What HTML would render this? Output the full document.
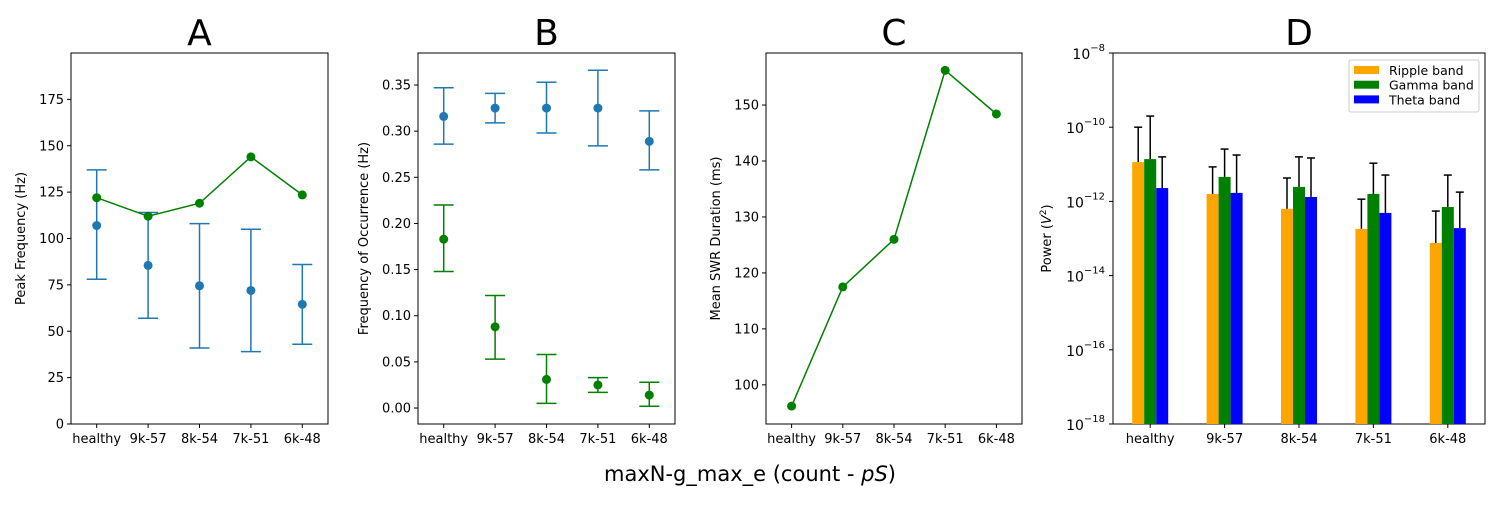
<!DOCTYPE html>
<html><head><meta charset="utf-8"><style>
body{margin:0;background:#fff}
svg text{font-family:"DejaVu Sans","Liberation Sans",sans-serif;fill:#000}
</style></head><body>
<svg id="c" width="1500" height="500" xmlns="http://www.w3.org/2000/svg"></svg>
<script>
const categories=["healthy","9k-57","8k-54","7k-51","6k-48"];
const aGreen=[122,112,119,144,123.5];
const aBlue=[107,85.5,74.5,72,64.5];
const aBlueLo=[78,57,41,39,43];
const aBlueHi=[137,114,108,105,86];
const bBlue=[0.316,0.325,0.325,0.325,0.289];
const bBlueLo=[0.286,0.309,0.298,0.284,0.258];
const bBlueHi=[0.347,0.341,0.353,0.366,0.322];
const bGreen=[0.183,0.088,0.031,0.025,0.014];
const bGreenLo=[0.148,0.053,0.005,0.017,0.002];
const bGreenHi=[0.220,0.122,0.058,0.033,0.028];
const cVals=[96.2,117.5,126,156.2,148.4];
const dRipple=[-10.94,-11.8,-12.2,-12.74,-13.12];
const dRippleErr=[-10.0,-11.07,-11.37,-11.94,-12.26];
const dGamma=[-10.86,-11.34,-11.61,-11.8,-12.15];
const dGammaErr=[-9.70,-10.59,-10.8,-10.97,-11.29];
const dTheta=[-11.64,-11.77,-11.88,-12.31,-12.72];
const dThetaErr=[-10.8,-10.75,-10.83,-11.29,-11.75];
const aTicks=[0,25,50,75,100,125,150,175];
const bTicks=[0,0.05,0.1,0.15,0.2,0.25,0.3,0.35];
const cTicks=[100,110,120,130,140,150];
const dTicks=[-18,-16,-14,-12,-10,-8];

const svg=document.getElementById('c');
const NS="http://www.w3.org/2000/svg";
function el(t,a,p){const e=document.createElementNS(NS,t);for(const k in a)e.setAttribute(k,a[k]);(p||svg).appendChild(e);return e;}
function txt(s,a,p){const e=el('text',a,p);e.textContent=s;return e;}

function panel(name,L,R,T,B,y0,y1,ticks,fmt,ylabel,title,ylx){
  const g=el('g',{});
  
  
  const xs=i=>L+(i+0.5)*(R-L)/5;
  const ys=v=>B-(v-y0)/(y1-y0)*(B-T);
  const fr=el('rect',{x:L,y:T,width:R-L,height:B-T,fill:'none',stroke:'#000','stroke-width':1},g);
  
  
  categories.forEach((c,i)=>{
    el('line',{x1:xs(i),x2:xs(i),y1:B,y2:B+4,stroke:'#000'},g);
    const t=txt(c,{x:xs(i),y:B+19,'font-size':13,'text-anchor':'middle'},g);
    
    
  });
  ticks.forEach(v=>{
    el('line',{x1:L-4,x2:L,y1:ys(v),y2:ys(v),stroke:'#000'},g);
    if(fmt){const t=txt(fmt(v),{x:L-7,y:ys(v)+4.5,'font-size':13,'text-anchor':'end'},g);
    
    }
  });
  const yl=txt(ylabel,{x:0,y:0,'font-size':13,'text-anchor':'middle',transform:`translate(${ylx},${(T+B)/2}) rotate(-90)`},g);
  
  
  const tt=txt(title,{x:(L+R)/2,y:45,'font-size':36,'text-anchor':'middle'},g);
  
  
  return {g,xs,ys};
}
function errbar(g,x,lo,hi,col,cap){
  el('line',{x1:x,x2:x,y1:lo,y2:hi,stroke:col,'stroke-width':1.5},g);
  el('line',{x1:x-cap,x2:x+cap,y1:hi,y2:hi,stroke:col,'stroke-width':1.5},g);
  if(lo!==null) el('line',{x1:x-cap,x2:x+cap,y1:lo,y2:lo,stroke:col,'stroke-width':1.5},g);
}
function line(g,xs,ys,vals,col,name){
  const p=el('polyline',{points:vals.map((v,i)=>xs(i)+','+ys(v)).join(' '),fill:'none',stroke:col,'stroke-width':1.5},g);
  
  
}
function dots(g,xs,ys,vals,col,name){
  vals.forEach((v,i)=>{const c=el('circle',{cx:xs(i),cy:ys(v),r:4.5,fill:col},g);
  
  });
}
const BLUE='#1f77b4';
// A
let P=panel('a',71,328,53,424,0,200,aTicks,v=>String(v),'Peak Frequency (Hz)','A',25);
categories.forEach((c,i)=>errbar(P.g,P.xs(i),P.ys(aBlueLo[i]),P.ys(aBlueHi[i]),BLUE,10));
dots(P.g,P.xs,P.ys,aBlue,BLUE,'point-blue');
line(P.g,P.xs,P.ys,aGreen,'green','line-green');
dots(P.g,P.xs,P.ys,aGreen,'green','point-green');
// B
P=panel('b',418,675,53,424,-0.0173,0.3847,bTicks,v=>v.toFixed(2),'Frequency of Occurrence (Hz)','B',368);
categories.forEach((c,i)=>{errbar(P.g,P.xs(i),P.ys(bBlueLo[i]),P.ys(bBlueHi[i]),BLUE,10);
errbar(P.g,P.xs(i),P.ys(bGreenLo[i]),P.ys(bGreenHi[i]),'green',10);});
dots(P.g,P.xs,P.ys,bBlue,BLUE,'point-blue');
dots(P.g,P.xs,P.ys,bGreen,'green','point-green');
// C
P=panel('c',766,1022,53,424,93.0,159.3,cTicks,v=>String(v),'Mean SWR Duration (ms)','C',720);
line(P.g,P.xs,P.ys,cVals,'green','line-green');
dots(P.g,P.xs,P.ys,cVals,'green','point-green');
// D
P=panel('d',1113,1485,53,424,-18,-8,[],null,'','D',1052);
const dyl=el('text',{x:0,y:0,'font-size':13,'text-anchor':'middle',transform:`translate(1051,238.5) rotate(-90)`},P.g);


dyl.appendChild(document.createTextNode('Power ('));
const iv=el('tspan',{'font-style':'italic'},dyl);iv.textContent='V';
const sq=el('tspan',{dy:-5,'font-size':9},dyl);sq.textContent='2';
const cp=el('tspan',{dy:5},dyl);cp.textContent=')';
dTicks.forEach(v=>{
el('line',{x1:1109,x2:1113,y1:P.ys(v),y2:P.ys(v),stroke:'#000'},P.g);
const t=el('text',{x:1105,y:P.ys(v)+6,'font-size':14,'text-anchor':'end'},P.g);


t.appendChild(document.createTextNode('10'));
const s=el('tspan',{dy:-8,'font-size':10},t);s.textContent='−'+Math.abs(v);});
const bw=12;
[[dRipple,dRippleErr,'orange',-1,'bar-ripple'],[dGamma,dGammaErr,'green',0,'bar-gamma'],[dTheta,dThetaErr,'blue',1,'bar-theta']].forEach(([vals,errs,col,off,name])=>{
  vals.forEach((v,i)=>{const cx=P.xs(i)+off*bw;
    const r=el('rect',{x:cx-bw/2,y:P.ys(v),width:bw,height:424-P.ys(v),fill:col},P.g);
    
    
    el('line',{x1:cx,x2:cx,y1:P.ys(v),y2:P.ys(errs[i]),stroke:'#000','stroke-width':1.5},P.g);
    el('line',{x1:cx-4,x2:cx+4,y1:P.ys(errs[i]),y2:P.ys(errs[i]),stroke:'#000','stroke-width':1.5},P.g);
  });
});
const lg=el('g',{},P.g);


el('rect',{x:1349,y:60,width:130,height:52,rx:2,fill:'#fff',stroke:'#ccc'},lg);
[['Ripple band','orange'],['Gamma band','green'],['Theta band','blue']].forEach(([n,c],i)=>{
  const e=el('g',{},lg);
  
  
  el('rect',{x:1354,y:66+i*14.7,width:25,height:8,fill:c},e);
  txt(n,{x:1389,y:75+i*14.7,'font-size':12.5},e);
});
const xl=el('text',{x:750,y:481,'font-size':21,'text-anchor':'middle'});


xl.appendChild(document.createTextNode('maxN-g_max_e (count - '));
const it=el('tspan',{'font-style':'italic'},xl);it.textContent='pS';
xl.appendChild(document.createTextNode(')'));
</script>
</body></html>
